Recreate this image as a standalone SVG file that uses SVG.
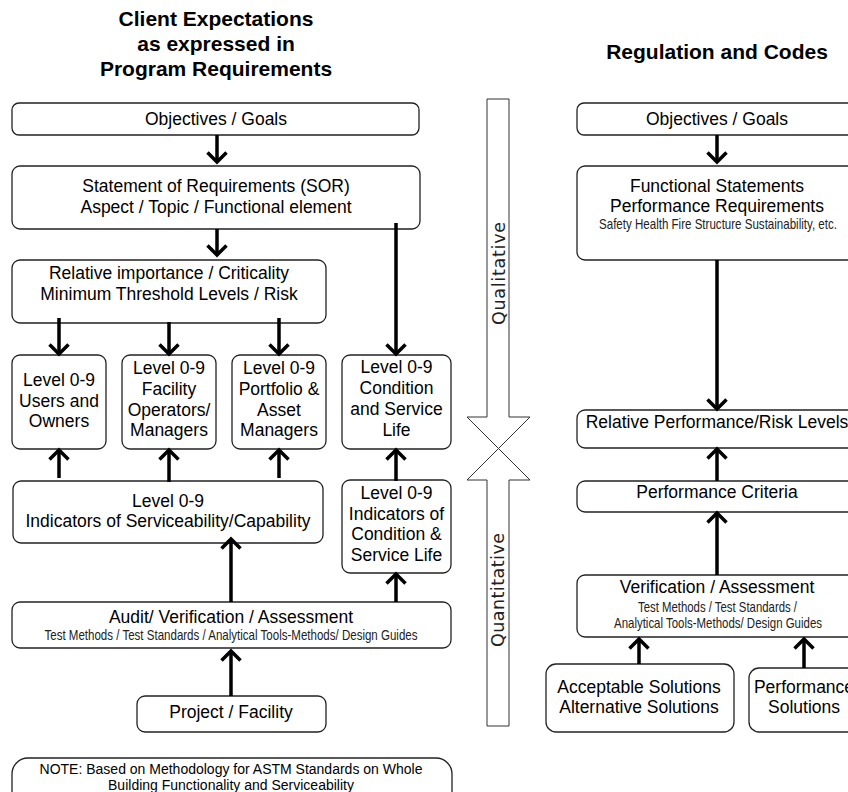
<svg xmlns="http://www.w3.org/2000/svg" width="848" height="792" viewBox="0 0 848 792">
<defs>
<style>
.box{fill:#fff;stroke:#222;stroke-width:1.3}
.t{font-family:"Liberation Sans",Arial,sans-serif;font-size:17.5px;fill:#000;text-anchor:middle}
.title{font-family:"Liberation Sans",Arial,sans-serif;font-size:21px;font-weight:bold;fill:#000;text-anchor:middle}
.s{font-family:"Liberation Sans Narrow","Liberation Sans",Arial,sans-serif;font-size:14.5px;fill:#222;text-anchor:middle}
.n{font-family:"Liberation Sans",Arial,sans-serif;font-size:14px;fill:#000;text-anchor:middle}
.q{font-family:"DejaVu Sans",Verdana,sans-serif;font-size:17.5px;fill:#222;text-anchor:middle}
.c{stroke:#000;stroke-width:3.5;fill:none}
.big{fill:#fff;stroke:#333;stroke-width:1}
</style>
<marker id="ah" markerUnits="userSpaceOnUse" markerWidth="26" markerHeight="26" viewBox="-13 -13 26 26" refX="0" refY="0" orient="auto">
<path d="M-9.5,-9.5 L0,0 L-9.5,9.5" fill="none" stroke="#000" stroke-width="3.5"/>
</marker>
</defs>

<text class="title" x="216" y="26">Client Expectations</text>
<text class="title" x="216" y="51">as expressed in</text>
<text class="title" x="216" y="76">Program Requirements</text>
<text class="title" x="717" y="59">Regulation and Codes</text>

<g id="central-arrow">
<path class="big" d="M487,99 H509 V417 H530 L498.5,448.5 L467,417 H487 Z"/>
<path class="big" d="M487,726 H509 V480 H530 L498.5,448.5 L467,480 H487 Z"/>
<text class="q" transform="translate(505,273.5) rotate(-90)" textLength="103" lengthAdjust="spacing">Qualitative</text>
<text class="q" transform="translate(504,590) rotate(-90)" textLength="114" lengthAdjust="spacing">Quantitative</text>
</g>

<g id="l-objectives"><rect class="box" x="12" y="103" width="407" height="32" rx="7"/><text class="t" x="216" y="125">Objectives / Goals</text></g>
<g id="l-sor"><rect class="box" x="12" y="166" width="408" height="63" rx="8"/><text class="t" x="216" y="192">Statement of Requirements (SOR)</text><text class="t" x="216" y="213">Aspect / Topic / Functional element</text></g>
<g id="l-relative"><rect class="box" x="12" y="260" width="314" height="63" rx="8"/><text class="t" x="169" y="279">Relative importance / Criticality</text><text class="t" x="169" y="300">Minimum Threshold Levels / Risk</text></g>
<g id="l-users"><rect class="box" x="12" y="355" width="94" height="94" rx="8"/><text class="t" x="59" y="386">Level 0-9</text><text class="t" x="59" y="407">Users and</text><text class="t" x="59" y="427">Owners</text></g>
<g id="l-operators"><rect class="box" x="122" y="355" width="94" height="94" rx="8"/><text class="t" x="169" y="374">Level 0-9</text><text class="t" x="169" y="395">Facility</text><text class="t" x="169" y="416">Operators/</text><text class="t" x="169" y="436">Managers</text></g>
<g id="l-portfolio"><rect class="box" x="232" y="355" width="94" height="94" rx="8"/><text class="t" x="279" y="374">Level 0-9</text><text class="t" x="279" y="395">Portfolio &amp;</text><text class="t" x="279" y="416">Asset</text><text class="t" x="279" y="436">Managers</text></g>
<g id="l-condition"><rect class="box" x="342" y="355" width="109" height="94" rx="8"/><text class="t" x="396.5" y="373">Level 0-9</text><text class="t" x="396.5" y="394">Condition</text><text class="t" x="396.5" y="415">and Service</text><text class="t" x="396.5" y="436">Life</text></g>
<g id="l-indicators"><rect class="box" x="13" y="481" width="310" height="62" rx="8"/><text class="t" x="168" y="507">Level 0-9</text><text class="t" x="168" y="527">Indicators of Serviceability/Capability</text></g>
<g id="l-ind-condition"><rect class="box" x="342" y="480" width="109" height="93" rx="8"/><text class="t" x="396.5" y="499">Level 0-9</text><text class="t" x="396.5" y="520">Indicators of</text><text class="t" x="396.5" y="540">Condition &amp;</text><text class="t" x="396.5" y="561">Service Life</text></g>
<g id="l-audit"><rect class="box" x="12" y="602" width="439" height="46" rx="8"/><text class="t" x="231" y="623">Audit/ Verification / Assessment</text><text class="s" x="231" y="640" textLength="373" lengthAdjust="spacingAndGlyphs">Test Methods / Test Standards / Analytical Tools-Methods/ Design Guides</text></g>
<g id="l-project"><rect class="box" x="137" y="696" width="189" height="36" rx="8"/><text class="t" x="231" y="718">Project / Facility</text></g>
<g id="note"><rect class="box" x="12" y="758" width="440" height="60" rx="16"/><text class="n" x="231" y="774">NOTE: Based on Methodology for ASTM Standards on Whole</text><text class="n" x="231" y="790">Building Functionality and Serviceability</text></g>

<g id="r-objectives"><rect class="box" x="577" y="103" width="280" height="32" rx="7"/><text class="t" x="717" y="125">Objectives / Goals</text></g>
<g id="r-functional"><rect class="box" x="577" y="166" width="280" height="94" rx="8"/><text class="t" x="717" y="192">Functional Statements</text><text class="t" x="717" y="212">Performance Requirements</text><text class="s" x="718" y="229" textLength="238" lengthAdjust="spacingAndGlyphs">Safety  Health Fire Structure Sustainability, etc.</text></g>
<g id="r-relative"><rect class="box" x="577" y="410" width="280" height="38" rx="8"/><text class="t" x="717" y="428">Relative Performance/Risk Levels</text></g>
<g id="r-criteria"><rect class="box" x="577" y="481" width="280" height="31" rx="8"/><text class="t" x="717" y="498">Performance Criteria</text></g>
<g id="r-verification"><rect class="box" x="577" y="575" width="280" height="62" rx="8"/><text class="t" x="717" y="593">Verification / Assessment</text><text class="s" x="717.5" y="612" textLength="159" lengthAdjust="spacingAndGlyphs">Test Methods / Test Standards /</text><text class="s" x="718" y="628" textLength="208" lengthAdjust="spacingAndGlyphs">Analytical Tools-Methods/ Design Guides</text></g>
<g id="r-acceptable"><rect class="box" x="546" y="664" width="188" height="68" rx="10"/><text class="t" x="639" y="693">Acceptable Solutions</text><text class="t" x="639" y="713">Alternative Solutions</text></g>
<g id="r-performance"><rect class="box" x="749" y="668" width="110" height="64" rx="10"/><text class="t" x="804" y="693">Performance</text><text class="t" x="804" y="713">Solutions</text></g>

<g id="connectors">
<line class="c" x1="217" y1="135" x2="217" y2="162" marker-end="url(#ah)"/>
<line class="c" x1="217" y1="229" x2="217" y2="255" marker-end="url(#ah)"/>
<line class="c" x1="396" y1="223" x2="396" y2="354" marker-end="url(#ah)"/>
<line class="c" x1="59" y1="318" x2="59" y2="354" marker-end="url(#ah)"/>
<line class="c" x1="169" y1="322" x2="169" y2="354" marker-end="url(#ah)"/>
<line class="c" x1="279" y1="318" x2="279" y2="354" marker-end="url(#ah)"/>
<line class="c" x1="59" y1="478" x2="59" y2="450" marker-end="url(#ah)"/>
<line class="c" x1="169" y1="482" x2="169" y2="450" marker-end="url(#ah)"/>
<line class="c" x1="279" y1="478" x2="279" y2="450" marker-end="url(#ah)"/>
<line class="c" x1="396" y1="481" x2="396" y2="450" marker-end="url(#ah)"/>
<line class="c" x1="231" y1="602" x2="231" y2="539" marker-end="url(#ah)"/>
<line class="c" x1="396" y1="602" x2="396" y2="574" marker-end="url(#ah)"/>
<line class="c" x1="231" y1="696" x2="231" y2="651" marker-end="url(#ah)"/>
<line class="c" x1="717" y1="135" x2="717" y2="162" marker-end="url(#ah)"/>
<line class="c" x1="717" y1="260" x2="717" y2="409" marker-end="url(#ah)"/>
<line class="c" x1="717" y1="481" x2="717" y2="449" marker-end="url(#ah)"/>
<line class="c" x1="717" y1="575" x2="717" y2="513" marker-end="url(#ah)"/>
<line class="c" x1="639" y1="664" x2="639" y2="639" marker-end="url(#ah)"/>
<line class="c" x1="804" y1="668" x2="804" y2="639" marker-end="url(#ah)"/>
</g>
</svg>
